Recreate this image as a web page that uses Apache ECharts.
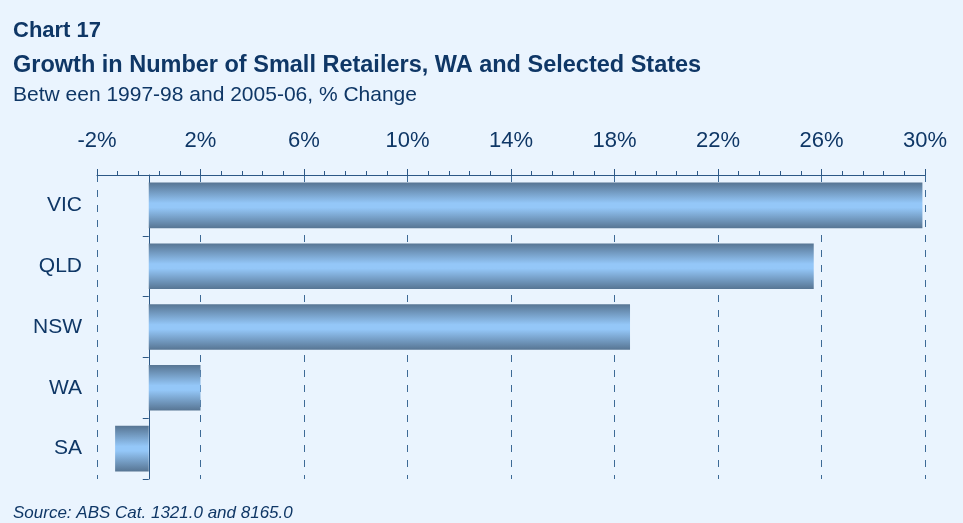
<!DOCTYPE html>
<html>
<head>
<meta charset="utf-8">
<script src="https://cdn.jsdelivr.net/npm/echarts@6/dist/echarts.min.js"></script>
<style>
  html, body { margin: 0; padding: 0; background: #eaf4fe; }
  #chart { width: 963px; height: 523px; }
</style>
</head>
<body>
<div id="chart"></div>
<script>
// states, top to bottom
var states = ["VIC", "QLD", "NSW", "WA", "SA"];
// % change 1997-98 to 2005-06
var growth = [29.9, 25.7, 18.6, 2.0, -1.3];
// x axis range / step
var axisMin = -2;
var axisMax = 30;
var axisStep = 4;

var textColor = "#0f3766";
var lineColor = "#2c5886";
var font = "'Liberation Sans', Arial, sans-serif";

var chart = echarts.init(document.getElementById("chart"));
chart.setOption({
  backgroundColor: "#eaf4fe",
  animation: false,
  textStyle: { fontFamily: font },
  title: [
    {
      text: "Chart 17",
      left: 8,
      top: 15,
      textStyle: { color: textColor, fontSize: 22, fontWeight: "bold", fontFamily: font }
    },
    {
      text: "Growth in Number of Small Retailers, WA and Selected States",
      left: 8,
      top: 49,
      textStyle: { color: textColor, fontSize: 23.5, fontWeight: "bold", fontFamily: font }
    },
    {
      text: "Betw een 1997-98 and 2005-06, % Change",
      left: 8,
      top: 80,
      textStyle: { color: textColor, fontSize: 21, fontWeight: "normal", fontFamily: font }
    },
    {
      text: "Source: ABS Cat. 1321.0 and 8165.0",
      left: 8,
      top: 500,
      textStyle: { color: textColor, fontSize: 17, fontStyle: "italic", fontWeight: "normal", fontFamily: font }
    }
  ],
  grid: {
    left: 97,
    right: 38,
    top: 175,
    bottom: 44,
    containLabel: false,
    outerBoundsMode: "none"
  },
  xAxis: {
    type: "value",
    position: "top",
    min: axisMin,
    max: axisMax,
    interval: axisStep,
    axisLine: { show: true, lineStyle: { color: lineColor, width: 1 } },
    axisTick: { show: true, length: 6, lineStyle: { color: lineColor } },
    minorTick: { show: true, splitNumber: 5, length: 4, lineStyle: { color: lineColor } },
    axisLabel: {
      formatter: "{value}%",
      color: textColor,
      fontSize: 22,
      margin: 23,
      fontFamily: font
    },
    splitLine: {
      show: true,
      lineStyle: { color: "#3d6a96", type: [7, 8], width: 1 }
    }
  },
  yAxis: {
    type: "category",
    inverse: true,
    data: states,
    axisLine: { show: true, onZero: true, lineStyle: { color: lineColor, width: 1 } },
    axisTick: { show: true, length: 6, lineStyle: { color: lineColor } },
    axisLabel: {
      color: textColor,
      fontSize: 21,
      margin: 15,
      fontFamily: font
    },
    splitLine: { show: false }
  },
  series: [
    {
      type: "bar",
      data: growth,
      barCategoryGap: "25%",
      itemStyle: {
        color: new echarts.graphic.LinearGradient(0, 0, 0, 1, [
          { offset: 0, color: "#577593" },
          { offset: 0.45, color: "#94c7f8" },
          { offset: 0.55, color: "#94c7f8" },
          { offset: 1, color: "#577593" }
        ])
      }
    }
  ]
});
</script>
</body>
</html>
